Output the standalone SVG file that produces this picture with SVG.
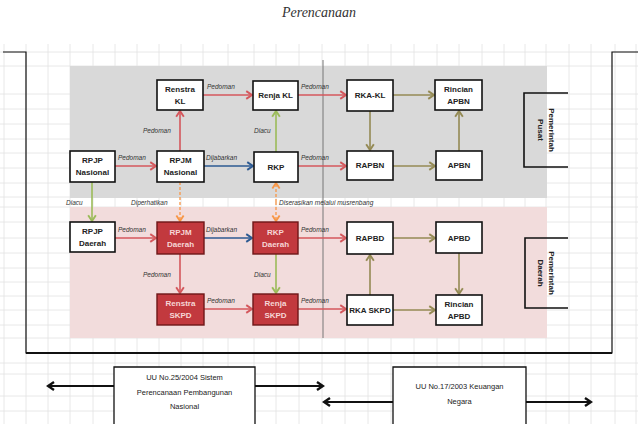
<svg xmlns="http://www.w3.org/2000/svg" width="638" height="424" viewBox="0 0 638 424">
<style>
.grid line{stroke:#e2e2e2;stroke-width:0.8}
.box{fill:#fff;stroke:#111;stroke-width:1.6}
.rbox{fill:#c2393e;stroke:#6e1618;stroke-width:1.4}
.t{font-family:"Liberation Sans",Arial,sans-serif;font-size:8px;font-weight:bold;fill:#222;text-anchor:middle}
.tw{font-family:"Liberation Sans",Arial,sans-serif;font-size:8px;font-weight:bold;fill:#f6d6d6;text-anchor:middle}
.lb{font-family:"Liberation Sans",Arial,sans-serif;font-size:6.5px;font-style:italic;fill:#333}
.bt{font-family:"Liberation Sans",Arial,sans-serif;font-size:7.5px;fill:#222;text-anchor:middle}
.red{stroke:#d4575c;stroke-width:1.6;fill:none;marker-end:url(#mr)}
.blue{stroke:#2d5a92;stroke-width:1.6;fill:none;marker-end:url(#mb)}
.grn{stroke:#9bbb59;stroke-width:1.6;fill:none;marker-end:url(#mg)}
.olv{stroke:#948a54;stroke-width:1.6;fill:none;marker-end:url(#mo)}
.org{stroke:#f79646;stroke-width:1.3;stroke-dasharray:3 2;fill:none;marker-end:url(#mor)}
.blk{stroke:#111;stroke-width:2;fill:none;marker-end:url(#mk)}
.open{fill:none;stroke:#111;stroke-width:1.6}
</style>
<defs>
<marker id="mr" viewBox="0 0 10 10" refX="8" refY="5" markerWidth="6" markerHeight="6" markerUnits="strokeWidth" orient="auto"><path d="M2,1 L8,5 L2,9" fill="none" stroke="#d4575c" stroke-width="2"/></marker>
<marker id="mb" viewBox="0 0 10 10" refX="8" refY="5" markerWidth="6" markerHeight="6" markerUnits="strokeWidth" orient="auto"><path d="M2,1 L8,5 L2,9" fill="none" stroke="#2d5a92" stroke-width="2"/></marker>
<marker id="mg" viewBox="0 0 10 10" refX="8" refY="5" markerWidth="6" markerHeight="6" markerUnits="strokeWidth" orient="auto"><path d="M2,1 L8,5 L2,9" fill="none" stroke="#9bbb59" stroke-width="2"/></marker>
<marker id="mo" viewBox="0 0 10 10" refX="8" refY="5" markerWidth="6" markerHeight="6" markerUnits="strokeWidth" orient="auto"><path d="M2,1 L8,5 L2,9" fill="none" stroke="#948a54" stroke-width="2"/></marker>
<marker id="mor" viewBox="0 0 10 10" refX="8" refY="5" markerWidth="7" markerHeight="7" markerUnits="strokeWidth" orient="auto"><path d="M2,1 L8,5 L2,9" fill="none" stroke="#f79646" stroke-width="2"/></marker>
<marker id="mk" viewBox="0 0 10 10" refX="8" refY="5" markerWidth="5" markerHeight="5" markerUnits="strokeWidth" orient="auto"><path d="M2,1 L8,5 L2,9" fill="none" stroke="#111" stroke-width="2.4"/></marker>
</defs>
<rect width="638" height="424" fill="#fff"/>
<text x="319" y="17" font-family="'Liberation Serif','DejaVu Serif',serif" font-style="italic" font-size="14" fill="#333" text-anchor="middle">Perencanaan</text>
<g class="grid">
<line x1="4" y1="44" x2="4" y2="424"/><line x1="26" y1="44" x2="26" y2="424"/><line x1="48" y1="44" x2="48" y2="424"/><line x1="70" y1="44" x2="70" y2="424"/><line x1="93" y1="44" x2="93" y2="424"/><line x1="115" y1="44" x2="115" y2="424"/><line x1="137" y1="44" x2="137" y2="424"/><line x1="159" y1="44" x2="159" y2="424"/><line x1="181" y1="44" x2="181" y2="424"/><line x1="203" y1="44" x2="203" y2="424"/><line x1="228" y1="44" x2="228" y2="424"/><line x1="254" y1="44" x2="254" y2="424"/><line x1="276" y1="44" x2="276" y2="424"/><line x1="299" y1="44" x2="299" y2="424"/><line x1="322" y1="44" x2="322" y2="424"/><line x1="345" y1="44" x2="345" y2="424"/><line x1="368" y1="44" x2="368" y2="424"/><line x1="391" y1="44" x2="391" y2="424"/><line x1="414" y1="44" x2="414" y2="424"/><line x1="437" y1="44" x2="437" y2="424"/><line x1="459" y1="44" x2="459" y2="424"/><line x1="482" y1="44" x2="482" y2="424"/><line x1="504" y1="44" x2="504" y2="424"/><line x1="525" y1="44" x2="525" y2="424"/><line x1="546" y1="44" x2="546" y2="424"/><line x1="569" y1="44" x2="569" y2="424"/><line x1="591" y1="44" x2="591" y2="424"/><line x1="615" y1="44" x2="615" y2="424"/><line x1="636" y1="44" x2="636" y2="424"/>
<line x1="0" y1="52" x2="638" y2="52"/><line x1="0" y1="66" x2="638" y2="66"/><line x1="0" y1="94" x2="638" y2="94"/><line x1="0" y1="109" x2="638" y2="109"/><line x1="0" y1="124" x2="638" y2="124"/><line x1="0" y1="139" x2="638" y2="139"/><line x1="0" y1="153" x2="638" y2="153"/><line x1="0" y1="168" x2="638" y2="168"/><line x1="0" y1="183" x2="638" y2="183"/><line x1="0" y1="197" x2="638" y2="197"/><line x1="0" y1="207" x2="638" y2="207"/><line x1="0" y1="222" x2="638" y2="222"/><line x1="0" y1="238" x2="638" y2="238"/><line x1="0" y1="253" x2="638" y2="253"/><line x1="0" y1="268" x2="638" y2="268"/><line x1="0" y1="282" x2="638" y2="282"/><line x1="0" y1="296" x2="638" y2="296"/><line x1="0" y1="310" x2="638" y2="310"/><line x1="0" y1="325" x2="638" y2="325"/><line x1="0" y1="338" x2="638" y2="338"/><line x1="0" y1="363" x2="638" y2="363"/><line x1="0" y1="374" x2="638" y2="374"/><line x1="0" y1="396" x2="638" y2="396"/><line x1="0" y1="411" x2="638" y2="411"/>
</g>
<rect x="70" y="66" width="477" height="132" fill="#d9d9d9"/>
<rect x="70" y="207" width="477" height="131" fill="#f2dcdc"/>
<line x1="323" y1="60" x2="323" y2="338" stroke="#777" stroke-width="1"/>
<g id="frame" fill="none" stroke="#111">
<path d="M3,52 H26 V353 H612 V52 H638" stroke-width="1.2"/>
<line x1="26" y1="353" x2="612" y2="353" stroke-width="2.2"/>
</g>
<g id="connectors">
<line class="red" x1="203" y1="95" x2="252" y2="95"/>
<line class="red" x1="298" y1="95" x2="346" y2="95"/>
<line class="red" x1="180" y1="151" x2="180" y2="111"/>
<line class="grn" x1="276" y1="152" x2="276" y2="111"/>
<line class="red" x1="115" y1="166" x2="156" y2="166"/>
<line class="blue" x1="204" y1="166" x2="253" y2="166"/>
<line class="red" x1="298" y1="166" x2="346" y2="166"/>
<line class="olv" x1="393" y1="95" x2="434" y2="95"/>
<line class="olv" x1="370" y1="111" x2="370" y2="150"/>
<line class="olv" x1="393" y1="166" x2="435" y2="166"/>
<line class="olv" x1="459" y1="151" x2="459" y2="111"/>
<line class="grn" x1="92" y1="182" x2="92" y2="221"/>
<line class="org" x1="180" y1="182" x2="180" y2="221"/>
<line class="org" x1="276" y1="202" x2="276" y2="221"/>
<line class="org" x1="276" y1="202" x2="276" y2="183"/>
<line class="red" x1="115" y1="238" x2="156" y2="238"/>
<line class="blue" x1="204" y1="238" x2="252" y2="238"/>
<line class="red" x1="298" y1="238" x2="346" y2="238"/>
<line class="red" x1="180" y1="254" x2="180" y2="293"/>
<line class="grn" x1="276" y1="254" x2="276" y2="293"/>
<line class="red" x1="204" y1="309" x2="252" y2="309"/>
<line class="red" x1="298" y1="309" x2="346" y2="309"/>
<line class="olv" x1="370" y1="295" x2="370" y2="255"/>
<line class="olv" x1="393" y1="238" x2="435" y2="238"/>
<line class="olv" x1="459" y1="253" x2="459" y2="294"/>
<line class="olv" x1="393" y1="310" x2="435" y2="310"/>
<text class="lb" x="207" y="89">Pedoman</text>
<text class="lb" x="301" y="89">Pedoman</text>
<text class="lb" x="143" y="133">Pedoman</text>
<text class="lb" x="254" y="133">Diacu</text>
<text class="lb" x="118" y="160">Pedoman</text>
<text class="lb" x="206" y="160">Dijabarkan</text>
<text class="lb" x="301" y="160">Pedoman</text>
<text class="lb" x="66" y="205">Diacu</text>
<text class="lb" x="131" y="205">Diperhatikan</text>
<text class="lb" x="279" y="205">Diserasikan melalui musrenbang</text>
<text class="lb" x="118" y="232">Pedoman</text>
<text class="lb" x="206" y="232">Dijabarkan</text>
<text class="lb" x="301" y="232">Pedoman</text>
<text class="lb" x="143" y="277">Pedoman</text>
<text class="lb" x="254" y="277">Diacu</text>
<text class="lb" x="207" y="303">Pedoman</text>
<text class="lb" x="301" y="303">Pedoman</text>
<line class="blk" x1="114" y1="386" x2="48" y2="386"/>
<line class="blk" x1="255" y1="386" x2="323" y2="386"/>
<line class="blk" x1="393" y1="402" x2="324" y2="402"/>
<line class="blk" x1="526" y1="402" x2="591" y2="402"/>
</g>
<g id="renstra-kl"><rect class="box" x="157" y="80" width="46" height="30"/><text class="t" x="180" y="92">Renstra</text><text class="t" x="180" y="104">KL</text></g>
<g id="renja-kl"><rect class="box" x="253" y="81" width="45" height="29"/><text class="t" x="275.5" y="98">Renja KL</text></g>
<g id="rpjp-nasional"><rect class="box" x="70" y="151" width="45" height="31"/><text class="t" x="92.5" y="163">RPJP</text><text class="t" x="92.5" y="175">Nasional</text></g>
<g id="rpjm-nasional"><rect class="box" x="157" y="151" width="47" height="31"/><text class="t" x="180.5" y="163">RPJM</text><text class="t" x="180.5" y="175">Nasional</text></g>
<g id="rkp"><rect class="box" x="254" y="152" width="44" height="30" stroke-width="1"/><text class="t" x="276" y="170">RKP</text></g>
<g id="rka-kl"><rect class="box" x="347" y="80" width="46" height="31"/><text class="t" x="370" y="98">RKA-KL</text></g>
<g id="rincian-apbn"><rect class="box" x="435" y="80" width="47" height="30"/><text class="t" x="458.5" y="92">Rincian</text><text class="t" x="458.5" y="104">APBN</text></g>
<g id="rapbn"><rect class="box" x="347" y="151" width="46" height="29"/><text class="t" x="370" y="168">RAPBN</text></g>
<g id="apbn"><rect class="box" x="436" y="151" width="46" height="29" stroke-width="1"/><text class="t" x="459" y="168">APBN</text></g>
<g id="pemerintah-pusat"><path class="open" d="M568,93 H524 V167 H568"/><text class="t" transform="translate(546,130) rotate(90)" x="0" y="-3">Pemerintah</text><text class="t" transform="translate(546,130) rotate(90)" x="0" y="8">Pusat</text></g>
<g id="rpjp-daerah"><rect class="box" x="70" y="222" width="45" height="30"/><text class="t" x="92.5" y="234">RPJP</text><text class="t" x="92.5" y="246">Daerah</text></g>
<g id="rpjm-daerah"><rect class="rbox" x="157" y="222" width="47" height="32"/><text class="tw" x="180.5" y="235">RPJM</text><text class="tw" x="180.5" y="247">Daerah</text></g>
<g id="rkp-daerah"><rect class="rbox" x="253" y="222" width="45" height="32"/><text class="tw" x="275.5" y="235">RKP</text><text class="tw" x="275.5" y="247">Daerah</text></g>
<g id="renstra-skpd"><rect class="rbox" x="157" y="294" width="47" height="31"/><text class="tw" x="180.5" y="306">Renstra</text><text class="tw" x="180.5" y="318">SKPD</text></g>
<g id="renja-skpd"><rect class="rbox" x="253" y="294" width="45" height="31"/><text class="tw" x="275.5" y="306">Renja</text><text class="tw" x="275.5" y="318">SKPD</text></g>
<g id="rapbd"><rect class="box" x="347" y="222" width="46" height="32"/><text class="t" x="370" y="241">RAPBD</text></g>
<g id="apbd"><rect class="box" x="436" y="222" width="46" height="31" stroke-width="1"/><text class="t" x="459" y="241">APBD</text></g>
<g id="rka-skpd"><rect class="box" x="347" y="295" width="46" height="30"/><text class="t" x="370" y="313">RKA SKPD</text></g>
<g id="rincian-apbd"><rect class="box" x="436" y="295" width="46" height="30"/><text class="t" x="459" y="307">Rincian</text><text class="t" x="459" y="319">APBD</text></g>
<g id="pemerintah-daerah"><path class="open" d="M568,238 H525 V308 H568"/><text class="t" transform="translate(546,273) rotate(90)" x="0" y="-3">Pemerintah</text><text class="t" transform="translate(546,273) rotate(90)" x="0" y="8">Daerah</text></g>
<g id="uu-25-2004"><path d="M114,424 V367 H255 V424" fill="#fff" stroke="#111" stroke-width="1.3"/><text class="bt" x="184.5" y="380">UU No.25/2004 Sistem</text><text class="bt" x="184.5" y="395">Perencanaan Pembangunan</text><text class="bt" x="184.5" y="409">Nasional</text></g>
<g id="uu-17-2003"><path d="M393,424 V367 H526 V424" fill="#fff" stroke="#111" stroke-width="1.3"/><text class="bt" x="459.5" y="389">UU No.17/2003 Keuangan</text><text class="bt" x="459.5" y="404">Negara</text></g>
</svg>
